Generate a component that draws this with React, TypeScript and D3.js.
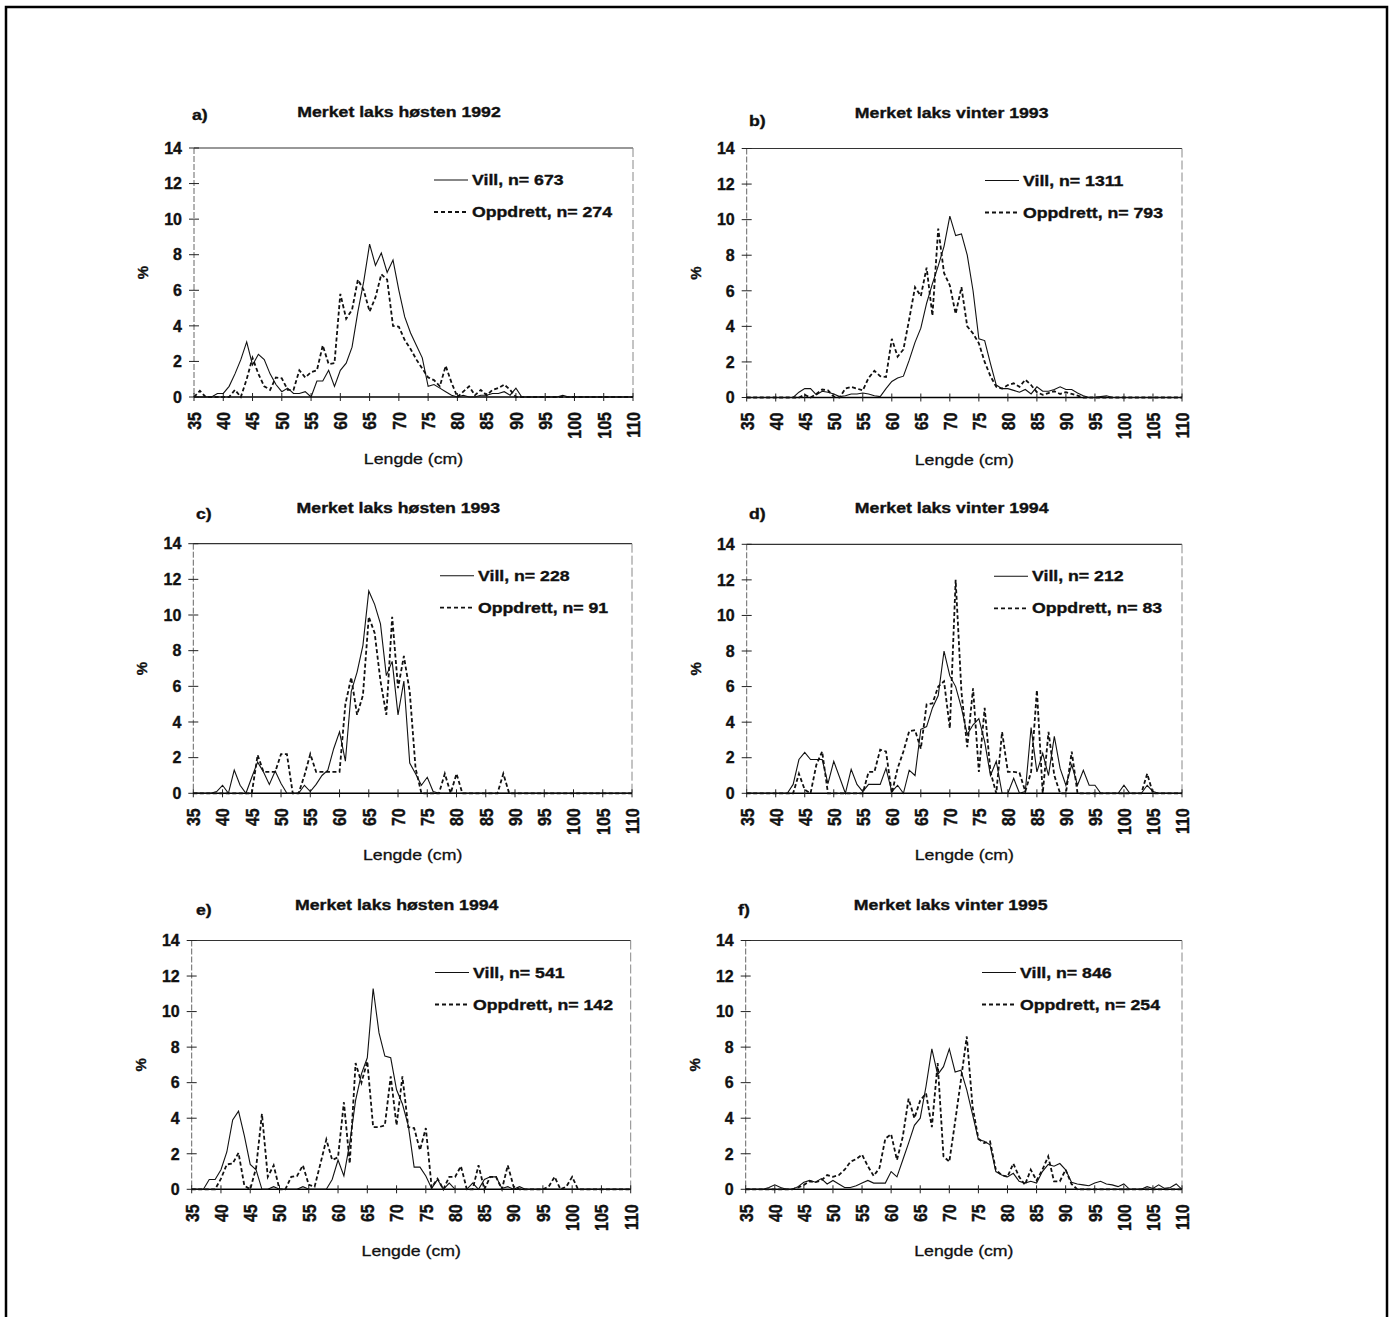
import { line, scaleLinear } from "d3";
import React from "react";

// length classes (cm)
const lengths = [
  35, 36, 37, 38, 39, 40, 41, 42, 43, 44, 45, 46, 47, 48, 49, 50, 51, 52, 53,
  54, 55, 56, 57, 58, 59, 60, 61, 62, 63, 64, 65, 66, 67, 68, 69, 70, 71, 72,
  73, 74, 75, 76, 77, 78, 79, 80, 81, 82, 83, 84, 85, 86, 87, 88, 89, 90, 91,
  92, 93, 94, 95, 96, 97, 98, 99, 100, 101, 102, 103, 104, 105, 106, 107, 108,
  109, 110,
];
const xTicks = [35, 40, 45, 50, 55, 60, 65, 70, 75, 80, 85, 90, 95, 100, 105, 110];
const yTicks = [0, 2, 4, 6, 8, 10, 12, 14];

// % per length class, 35..110
const villA = [
  0, 0, 0, 0, 0.2, 0.2, 0.6, 1.3, 2.1, 3.1,
  1.8, 2.4, 2.1, 1.3, 0.7, 0.3, 0.5, 0.2, 0.2, 0.3,
  0, 0.9, 0.9, 1.5, 0.6, 1.5, 1.9, 2.8, 4.8, 6.5,
  8.6, 7.4, 8.1, 7.0, 7.7, 6.0, 4.5, 3.6, 2.9, 2.2,
  0.6, 0.7, 0.5, 0.3, 0.1, 0, 0.1, 0, 0, 0.1,
  0.1, 0.2, 0.2, 0.3, 0.1, 0.5, 0, 0, 0, 0,
  0, 0, 0, 0.1, 0, 0,
  0, 0, 0, 0, 0, 0, 0, 0, 0, 0,
];
const oppA = [
  0, 0.35, 0, 0, 0, 0, 0, 0.4, 0, 1.0,
  2.2, 1.3, 0.6, 0.4, 1.1, 1.05, 0.4, 0.4, 1.5, 1.1,
  1.4, 1.5, 2.9, 1.85, 1.9, 5.8, 4.4, 4.9, 6.6, 6.0,
  4.8, 5.6, 6.9, 6.6, 4.0, 3.95, 3.2, 2.7, 2.1, 1.6,
  1.1, 0.95, 0.6, 1.75, 0.8, 0, 0.3, 0.6, 0.1, 0.4,
  0.1, 0.4, 0.5, 0.7, 0.4, 0, 0, 0, 0, 0,
  0, 0, 0, 0, 0, 0,
  0, 0, 0, 0, 0, 0, 0, 0, 0, 0,
];
const villB = [
  0, 0, 0, 0, 0, 0, 0, 0, 0, 0.3,
  0.5, 0.5, 0.15, 0.35, 0.3, 0.2, 0.05, 0.1, 0.2, 0.2,
  0.25, 0.2, 0.1, 0.05, 0.5, 0.9, 1.1, 1.2, 2.1, 3.1,
  3.9, 5.3, 6.4, 7.4, 8.5, 10.2, 9.1, 9.2, 8.0, 6.0,
  3.3, 3.2, 1.9, 0.7, 0.5, 0.5, 0.4, 0.3, 0.45, 0.2,
  0.6, 0.35, 0.35, 0.45, 0.6, 0.45, 0.45, 0.25, 0.1, 0,
  0, 0.05, 0.1, 0, 0, 0,
  0, 0, 0, 0, 0, 0, 0, 0, 0, 0,
];
const oppB = [
  0, 0, 0, 0, 0, 0, 0, 0, 0, 0,
  0.15, 0, 0.2, 0.45, 0.4, 0.05, 0, 0.5, 0.6, 0.5,
  0.4, 1.1, 1.5, 1.2, 1.15, 3.3, 2.3, 2.7, 4.4, 6.2,
  5.7, 7.3, 4.6, 9.5, 7.0, 6.3, 4.7, 6.2, 4.0, 3.6,
  3.05, 2.0, 1.2, 0.6, 0.5, 0.7, 0.8, 0.6, 1.0, 0.7,
  0.3, 0.15, 0.25, 0.35, 0.2, 0.3, 0.2, 0.1, 0, 0,
  0, 0, 0, 0, 0, 0,
  0, 0, 0, 0, 0, 0, 0, 0, 0, 0,
];
const villC = [
  0, 0, 0, 0, 0.1, 0.45, 0, 1.3, 0.45, 0,
  0.9, 1.75, 1.2, 0.5, 1.25, 0.55, 0, 0, 0, 0.45,
  0.1, 0.5, 1.0, 1.3, 2.5, 3.45, 1.8, 5.7, 6.8, 8.3,
  11.35, 10.6, 9.5, 6.6, 7.4, 4.4, 6.3, 1.7, 1.1, 0.45,
  0.9, 0.1, 0, 0, 0, 0, 0, 0, 0, 0,
  0, 0, 0, 0, 0, 0, 0, 0, 0, 0,
  0, 0, 0, 0, 0, 0,
  0, 0, 0, 0, 0, 0, 0, 0, 0, 0,
];
const oppC = [
  0, 0, 0, 0, 0, 0, 0, 0, 0, 0,
  0, 2.15, 1.2, 1.2, 1.2, 2.2, 2.2, 0, 0, 1.0,
  2.2, 1.2, 1.2, 1.2, 1.2, 1.2, 5.0, 6.5, 4.4, 5.5,
  9.9, 9.0, 6.3, 4.4, 9.9, 5.9, 7.7, 5.7, 1.4, 0,
  0, 0, 0, 1.1, 0, 1.1, 0, 0, 0, 0,
  0, 0, 0, 1.1, 0, 0, 0, 0, 0, 0,
  0, 0, 0, 0, 0, 0,
  0, 0, 0, 0, 0, 0, 0, 0, 0, 0,
];
const villD = [
  0, 0, 0, 0, 0, 0, 0, 0, 0.5, 1.9,
  2.3, 1.9, 1.9, 1.9, 0.55, 1.8, 0.9, 0, 1.35, 0.5,
  0.1, 0.5, 0.5, 0.5, 1.4, 0.1, 0.45, 0, 1.3, 1.0,
  3.6, 3.75, 4.8, 5.5, 8.0, 6.6, 6.0, 4.8, 3.3, 3.85,
  4.2, 2.9, 1.0, 1.8, 0, 0, 0.85, 0, 0.1, 3.7,
  1.2, 2.25, 1.0, 3.2, 1.4, 0.45, 1.6, 0.45, 1.3, 0.45,
  0.45, 0, 0, 0, 0, 0.45,
  0, 0, 0, 0.45, 0.1, 0, 0, 0, 0, 0,
];
const oppD = [
  0, 0, 0, 0, 0, 0, 0, 0, 0, 1.1,
  0.2, 0, 1.6, 2.35, 0, 0, 0, 0, 0, 0,
  0, 1.2, 1.2, 2.45, 2.35, 0, 1.4, 2.35, 3.5, 3.55,
  2.5, 5.0, 5.05, 6.0, 6.3, 3.65, 12.0, 5.7, 2.6, 5.9,
  1.2, 4.8, 1.2, 0, 3.45, 1.2, 1.2, 1.15, 0.1, 1.2,
  5.8, 0, 3.45, 1.0, 0, 0, 2.35, 0, 0, 0,
  0, 0, 0, 0, 0, 0,
  0, 0, 0, 1.1, 0, 0, 0, 0, 0, 0,
];
const villE = [
  0, 0, 0, 0.55, 0.55, 1.1, 2.1, 3.9, 4.4, 3.0,
  1.4, 1.1, 0, 0, 0.15, 0, 0, 0, 0, 0.15,
  0, 0, 0, 0, 0.55, 1.65, 0.75, 2.6, 5.0, 6.5,
  7.4, 11.3, 8.8, 7.5, 7.4, 5.6, 4.8, 3.6, 1.25, 1.25,
  0.75, 0.05, 0.55, 0, 0.35, 0, 0, 0, 0.35, 0,
  0.55, 0.7, 0.7, 0.05, 0.15, 0, 0.15, 0, 0, 0,
  0, 0, 0, 0, 0, 0,
  0, 0, 0, 0, 0, 0, 0, 0, 0, 0,
];
const oppE = [
  0, 0, 0, 0, 0, 0.6, 1.4, 1.45, 2.05, 0.2,
  0, 1.2, 4.25, 0.7, 1.35, 0, 0, 0.7, 0.75, 1.35,
  0.25, 0.15, 1.45, 2.8, 1.65, 1.8, 4.9, 1.45, 7.1, 6.0,
  7.2, 3.5, 3.5, 3.6, 6.35, 3.6, 6.35, 3.5, 3.45, 2.2,
  3.45, 0.1, 0.6, 0, 0.7, 0.7, 1.3, 0, 0, 1.35,
  0, 0.7, 0.7, 0, 1.35, 0.15, 0, 0, 0, 0,
  0, 0.15, 0.7, 0, 0.15, 0.7,
  0, 0, 0, 0, 0, 0, 0, 0, 0, 0,
];
const villF = [
  0, 0, 0, 0, 0.1, 0.25, 0.1, 0, 0, 0.15,
  0.4, 0.5, 0.4, 0.6, 0.3, 0.5, 0.3, 0.1, 0.1, 0.2,
  0.35, 0.5, 0.35, 0.35, 0.35, 1.0, 0.7, 1.65, 2.6, 3.6,
  4.0, 5.8, 7.9, 6.45, 6.9, 7.9, 6.6, 6.7, 5.6, 4.2,
  2.8, 2.7, 2.5, 1.0, 0.8, 0.7, 0.9, 0.45, 0.35, 0.45,
  0.35, 1.0, 1.4, 1.3, 1.45, 1.1, 0.4, 0.3, 0.25, 0.2,
  0.35, 0.45, 0.3, 0.25, 0.15, 0.3,
  0, 0, 0, 0.15, 0.05, 0.25, 0.05, 0.1, 0.3, 0,
];
const oppF = [
  0, 0, 0, 0, 0, 0, 0, 0, 0, 0.1,
  0.25, 0.45, 0.4, 0.5, 0.8, 0.7, 0.8, 1.1, 1.55, 1.7,
  1.95, 1.3, 0.75, 1.2, 2.85, 3.1, 1.65, 2.95, 5.1, 4.0,
  5.0, 5.4, 3.5, 7.1, 1.85, 1.55, 3.8, 6.15, 8.6, 4.65,
  2.85, 2.6, 2.7, 1.1, 0.8, 0.7, 1.45, 0.7, 0.25, 1.1,
  0.5, 1.1, 1.85, 0.45, 0.45, 1.1, 0.3, 0, 0, 0,
  0, 0, 0, 0, 0, 0,
  0, 0, 0, 0, 0, 0, 0, 0, 0, 0,
];

const panels = [
  { tag: "a)", title: "Merket laks høsten 1992", vill: villA, opp: oppA, nVill: 673, nOpp: 274 },
  { tag: "b)", title: "Merket laks vinter 1993", vill: villB, opp: oppB, nVill: 1311, nOpp: 793 },
  { tag: "c)", title: "Merket laks høsten 1993", vill: villC, opp: oppC, nVill: 228, nOpp: 91 },
  { tag: "d)", title: "Merket laks vinter 1994", vill: villD, opp: oppD, nVill: 212, nOpp: 83 },
  { tag: "e)", title: "Merket laks høsten 1994", vill: villE, opp: oppE, nVill: 541, nOpp: 142 },
  { tag: "f)", title: "Merket laks vinter 1995", vill: villF, opp: oppF, nVill: 846, nOpp: 254 },
];

// where each panel sits on the page
const frames = [
  { x0: 194, x1: 633, yTop: 148, yBot: 397, tagX: 192, tagY: 120, legendX: 472 },
  { x0: 746.7, x1: 1182, yTop: 148.5, yBot: 397.5, tagX: 749, tagY: 126, legendX: 1023 },
  { x0: 193.3, x1: 632, yTop: 543.7, yBot: 793.3, tagX: 196, tagY: 519, legendX: 478 },
  { x0: 746.7, x1: 1182, yTop: 544.3, yBot: 793.3, tagX: 749, tagY: 519, legendX: 1032 },
  { x0: 191.7, x1: 630.7, yTop: 940.5, yBot: 1189.3, tagX: 196, tagY: 915, legendX: 473 },
  { x0: 745.7, x1: 1182, yTop: 940.5, yBot: 1189.3, tagX: 738, tagY: 915, legendX: 1020 },
];

const FONT = "'Liberation Sans', Arial, Helvetica, sans-serif";
const STRETCH = 1.18;
// scanned print is heavy, thicken the bold text a little
const HEAVY = { fontWeight: "bold", stroke: "#111", strokeWidth: 0.35 };

function Panel({ panel, frame }) {
  const { x0, x1, yTop, yBot, tagX, tagY, legendX } = frame;

  const xScale = scaleLinear().domain([35, 110]).range([x0, x1]);
  const yScale = scaleLinear().domain([0, 14]).range([yBot, yTop]);

  const lineGenerator = line()
    .x((d, i) => xScale(lengths[i]))
    .y((d) => yScale(d));

  const midY = (yTop + yBot) / 2;
  const midX = (x0 + x1) / 2;

  return (
    <g fontFamily={FONT} fill="#111">
      {/* panel tag and title */}
      <text transform={`translate(${tagX},${tagY}) scale(${STRETCH},1)`} fontSize={15} {...HEAVY}>
        {panel.tag}
      </text>
      <text
        transform={`translate(${x0 + 205},${yTop - 31}) scale(${STRETCH},1)`}
        fontSize={15}
        textAnchor="middle"
        {...HEAVY}
      >
        {panel.title}
      </text>

      {/* frame */}
      <line x1={x0} x2={x1} y1={yTop} y2={yTop} stroke="#333" strokeWidth={1.2} />
      <line x1={x1} x2={x1} y1={yTop} y2={yBot} stroke="#888" strokeWidth={1} strokeDasharray="9 3" />
      <line x1={x0} x2={x0} y1={yTop} y2={yBot} stroke="#666" strokeWidth={1} strokeDasharray="6 2" />
      <line x1={x0} x2={x1} y1={yBot} y2={yBot} stroke="#000" strokeWidth={1.5} />

      {/* y axis */}
      {yTicks.map((t) => (
        <g key={`y${t}`}>
          <line x1={x0 - 5} x2={x0 + 5} y1={yScale(t)} y2={yScale(t)} stroke="#222" strokeWidth={1} />
          <text x={x0 - 12} y={yScale(t)} dy="0.36em" textAnchor="end" fontSize={16} {...HEAVY}>
            {t}
          </text>
        </g>
      ))}
      <text
        transform={`translate(${x0 - 46},${midY}) rotate(-90)`}
        fontSize={15}
        textAnchor="middle"
        {...HEAVY}
      >
        %
      </text>

      {/* x axis */}
      {xTicks.map((t) => (
        <g key={`x${t}`}>
          <line x1={xScale(t)} x2={xScale(t)} y1={yBot - 4} y2={yBot + 4} stroke="#222" strokeWidth={1} />
          <text
            transform={`translate(${xScale(t)},${yBot + 15}) scale(${STRETCH},1) rotate(-90)`}
            dy="0.36em"
            textAnchor="end"
            fontSize={16}
            {...HEAVY}
          >
            {t}
          </text>
        </g>
      ))}
      <text
        transform={`translate(${midX},${yBot + 67}) scale(${STRETCH},1)`}
        fontSize={15}
        textAnchor="middle"
        stroke="#111"
        strokeWidth={0.3}
      >
        Lengde (cm)
      </text>

      {/* series */}
      <path d={lineGenerator(panel.opp)} fill="none" stroke="#111" strokeWidth={1.8} strokeDasharray="4 2.5" />
      <path d={lineGenerator(panel.vill)} fill="none" stroke="#111" strokeWidth={1.1} />

      {/* legend */}
      <line x1={legendX - 38} x2={legendX - 4} y1={yTop + 32} y2={yTop + 32} stroke="#111" strokeWidth={1.1} />
      <text transform={`translate(${legendX},${yTop + 37}) scale(${STRETCH},1)`} fontSize={15} {...HEAVY}>
        {`Vill, n= ${panel.nVill}`}
      </text>
      <line
        x1={legendX - 38}
        x2={legendX - 4}
        y1={yTop + 64}
        y2={yTop + 64}
        stroke="#111"
        strokeWidth={1.8}
        strokeDasharray="4 3"
      />
      <text transform={`translate(${legendX},${yTop + 69}) scale(${STRETCH},1)`} fontSize={15} {...HEAVY}>
        {`Oppdrett, n= ${panel.nOpp}`}
      </text>
    </g>
  );
}

export default function App() {
  return (
    <svg
      width={1390}
      height={1317}
      style={{ position: "absolute", left: 0, top: 0, background: "#fff" }}
    >
      <rect x={0} y={0} width={1390} height={1317} fill="#fff" />
      <rect x={6} y={7} width={1381} height={1400} fill="none" stroke="#000" strokeWidth={2.5} />
      {panels.map((p, i) => (
        <Panel key={p.tag} panel={p} frame={frames[i]} />
      ))}
    </svg>
  );
}
